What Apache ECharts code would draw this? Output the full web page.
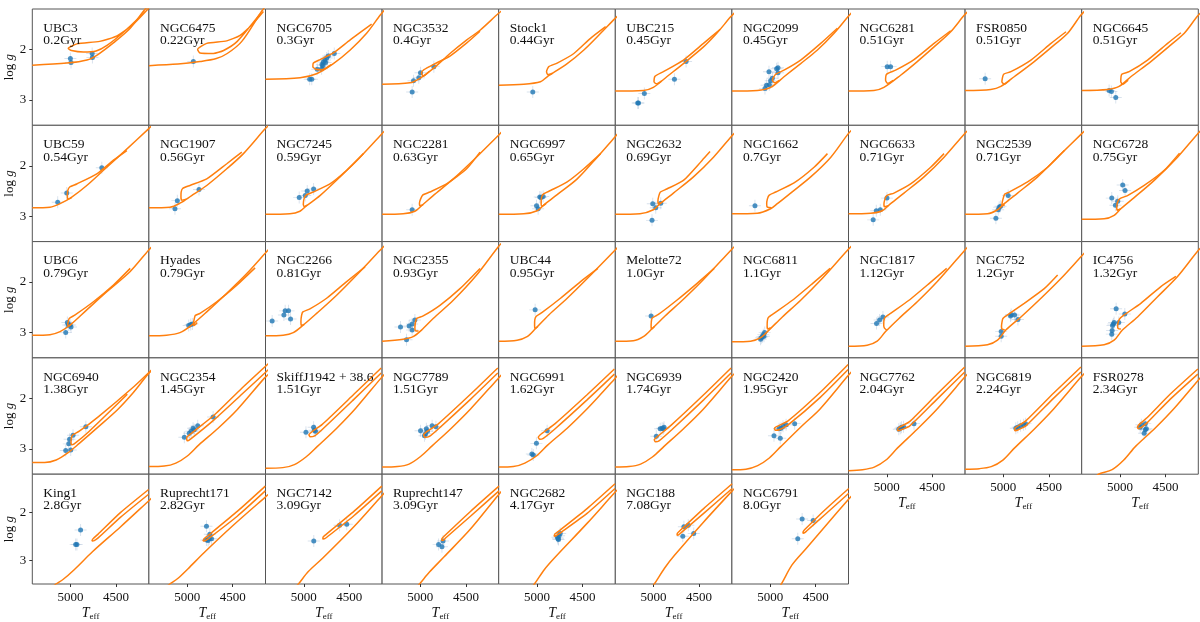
<!DOCTYPE html>
<html>
<head>
<meta charset="utf-8">
<script src="https://cdn.jsdelivr.net/npm/echarts@6/dist/echarts.min.js"></script>
<style>
  html, body { margin: 0; padding: 0; background: #fff; }
  #main { width: 1200px; height: 622px; }
</style>
</head>
<body>
<div id="main"></div>
<script>
// cluster names and ages, in panel order (10 per row)
const names = ['UBC3','NGC6475','NGC6705','NGC3532','Stock1','UBC215','NGC2099','NGC6281','FSR0850','NGC6645',
  'UBC59','NGC1907','NGC7245','NGC2281','NGC6997','NGC2632','NGC1662','NGC6633','NGC2539','NGC6728',
  'UBC6','Hyades','NGC2266','NGC2355','UBC44','Melotte72','NGC6811','NGC1817','NGC752','IC4756',
  'NGC6940','NGC2354','SkiffJ1942 + 38.6','NGC7789','NGC6991','NGC6939','NGC2420','NGC7762','NGC6819','FSR0278',
  'King1','Ruprecht171','NGC7142','Ruprecht147','NGC2682','NGC188','NGC6791'];
const ages = ['0.2Gyr','0.22Gyr','0.3Gyr','0.4Gyr','0.44Gyr','0.45Gyr','0.45Gyr','0.51Gyr','0.51Gyr','0.51Gyr',
  '0.54Gyr','0.56Gyr','0.59Gyr','0.63Gyr','0.65Gyr','0.69Gyr','0.7Gyr','0.71Gyr','0.71Gyr','0.75Gyr',
  '0.79Gyr','0.79Gyr','0.81Gyr','0.93Gyr','0.95Gyr','1.0Gyr','1.1Gyr','1.12Gyr','1.2Gyr','1.32Gyr',
  '1.38Gyr','1.45Gyr','1.51Gyr','1.51Gyr','1.62Gyr','1.74Gyr','1.95Gyr','2.04Gyr','2.24Gyr','2.34Gyr',
  '2.8Gyr','2.82Gyr','3.09Gyr','3.09Gyr','4.17Gyr','7.08Gyr','8.0Gyr'];

// isochrone: subgiant + red giant branch [Teff, logg]
const isoMain = [
  [[5420,2.31],[5040,2.27],[4820,2.21],[4700,2.10],[4530,1.87],[4345,1.58],[4180,1.2],[4100,1.08]],
  [[5420,2.32],[5100,2.29],[4860,2.24],[4680,2.18],[4560,2.08],[4400,1.84],[4180,1.24],[4100,1.06]],
  [[5420,2.59],[5040,2.56],[4860,2.48],[4675,2.28],[4490,2.01],[4310,1.68],[4160,1.32],[4080,1.15]],
  [[5420,2.69],[5115,2.66],[5005,2.57],[4860,2.38],[4675,2.08],[4490,1.81],[4345,1.62],[4144,1.29],[4080,1.2]],
  [[5420,2.71],[5145,2.69],[4962,2.64],[4888,2.54],[4668,2.28],[4485,2.01],[4301,1.68],[4144,1.39],[4080,1.28]],
  [[5420,2.82],[5112,2.81],[5002,2.75],[4855,2.54],[4672,2.28],[4452,1.95],[4306,1.68],[4151,1.35],[4080,1.22]],
  [[5420,2.82],[5141,2.81],[4995,2.75],[4848,2.54],[4665,2.28],[4481,2.01],[4298,1.68],[4144,1.35],[4080,1.22]],
  [[5420,2.82],[5141,2.81],[5031,2.75],[4848,2.51],[4665,2.24],[4481,1.95],[4298,1.65],[4148,1.32],[4080,1.2]],
  [[5420,2.81],[5138,2.79],[5027,2.73],[4881,2.54],[4661,2.24],[4441,1.91],[4294,1.68],[4148,1.32],[4080,1.2]],
  [[5420,2.81],[5138,2.79],[5009,2.73],[4881,2.54],[4661,2.24],[4441,1.91],[4294,1.68],[4148,1.34],[4080,1.22]],
  [[5420,2.83],[5226,2.82],[5115,2.75],[4987,2.62],[4822,2.39],[4639,2.09],[4419,1.73],[4144,1.27],[4080,1.16]],
  [[5420,2.83],[5189,2.82],[5079,2.74],[4951,2.59],[4785,2.39],[4565,2.06],[4382,1.76],[4144,1.27],[4080,1.16]],
  [[5420,2.96],[5152,2.95],[5042,2.90],[4969,2.79],[4822,2.59],[4602,2.22],[4382,1.83],[4144,1.37],[4080,1.25]],
  [[5420,2.96],[5189,2.95],[5060,2.90],[4987,2.79],[4859,2.59],[4639,2.26],[4419,1.89],[4144,1.40],[4080,1.28]],
  [[5420,2.96],[5145,2.95],[4998,2.89],[4907,2.75],[4778,2.57],[4558,2.26],[4338,1.83],[4144,1.43],[4080,1.3]],
  [[5420,2.96],[5149,2.95],[5002,2.87],[4929,2.75],[4782,2.54],[4562,2.22],[4342,1.83],[4151,1.43],[4080,1.3]],
  [[5420,2.95],[5141,2.94],[4995,2.85],[4921,2.75],[4775,2.54],[4555,2.22],[4334,1.83],[4144,1.37],[4080,1.25]],
  [[5420,2.95],[5178,2.94],[5050,2.89],[4958,2.75],[4811,2.54],[4591,2.22],[4371,1.83],[4148,1.37],[4080,1.25]],
  [[5420,2.96],[5174,2.95],[5064,2.87],[4991,2.75],[4844,2.54],[4624,2.22],[4404,1.83],[4148,1.38],[4080,1.26]],
  [[5420,3.06],[5174,3.05],[5064,2.98],[4991,2.85],[4844,2.63],[4624,2.29],[4368,1.83],[4148,1.37],[4080,1.25]],
  [[5420,3.05],[5226,3.04],[5115,2.98],[5005,2.85],[4822,2.55],[4602,2.19],[4345,1.79],[4144,1.37],[4080,1.25]],
  [[5420,3.06],[5226,3.05],[5079,3.0],[4951,2.85],[4785,2.59],[4565,2.22],[4345,1.83],[4144,1.43],[4080,1.3]],
  [[5420,3.06],[5226,3.05],[5115,3.0],[5005,2.85],[4859,2.62],[4639,2.26],[4419,1.86],[4162,1.37],[4080,1.22]],
  [[5420,3.17],[5189,3.13],[5079,3.08],[4987,2.95],[4859,2.72],[4639,2.36],[4382,1.86],[4144,1.30],[4080,1.18]],
  [[5420,3.17],[5218,3.15],[5108,3.08],[5016,2.92],[4870,2.65],[4668,2.32],[4448,1.93],[4144,1.37],[4080,1.25]],
  [[5420,3.17],[5222,3.16],[5112,3.08],[5020,2.93],[4874,2.67],[4672,2.34],[4452,1.95],[4151,1.37],[4080,1.24]],
  [[5420,3.18],[5215,3.17],[5105,3.10],[5013,2.95],[4866,2.69],[4665,2.36],[4445,1.96],[4151,1.37],[4080,1.24]],
  [[5420,3.27],[5215,3.25],[5105,3.17],[5013,2.98],[4866,2.72],[4665,2.39],[4445,1.99],[4148,1.38],[4080,1.24]],
  [[5420,3.27],[5174,3.24],[5064,3.15],[4973,2.95],[4807,2.69],[4587,2.32],[4368,1.93],[4148,1.50],[4060,1.33]],
  [[5420,3.27],[5174,3.24],[5064,3.15],[4973,2.95],[4807,2.69],[4587,2.29],[4368,1.89],[4148,1.39],[4080,1.27]],
  [[5420,3.27],[5284,3.27],[5158,3.22],[5031,3.08],[4904,2.89],[4693,2.56],[4482,2.22],[4313,1.89],[4152,1.53],[4080,1.4]],
  [[5420,3.35],[5251,3.34],[5124,3.28],[4998,3.14],[4871,2.92],[4660,2.59],[4449,2.22],[4152,1.60],[4080,1.48]],
  [[5420,3.38],[5230,3.37],[5103,3.31],[4976,3.16],[4850,2.95],[4638,2.59],[4427,2.19],[4152,1.60],[4080,1.46]],
  [[5420,3.36],[5251,3.35],[5124,3.30],[4998,3.15],[4871,2.94],[4660,2.59],[4449,2.21],[4152,1.62],[4080,1.48]],
  [[5420,3.36],[5259,3.35],[5133,3.28],[5006,3.14],[4880,2.92],[4668,2.59],[4457,2.22],[4306,1.93],[4150,1.62],[4080,1.48]],
  [[5420,3.36],[5270,3.35],[5142,3.30],[5013,3.16],[4885,2.95],[4671,2.60],[4457,2.22],[4149,1.58],[4080,1.45]],
  [[5420,3.41],[5266,3.40],[5137,3.33],[5009,3.18],[4881,2.95],[4666,2.57],[4452,2.21],[4144,1.55],[4080,1.42]],
  [[5420,3.43],[5266,3.41],[5137,3.36],[5009,3.22],[4881,2.98],[4666,2.61],[4452,2.22],[4144,1.58],[4080,1.45]],
  [[5420,3.40],[5262,3.39],[5133,3.35],[5005,3.22],[4876,2.98],[4662,2.61],[4448,2.21],[4148,1.58],[4080,1.45]],
  [[5260,3.55],[5236,3.50],[5086,3.41],[4958,3.22],[4829,2.95],[4615,2.59],[4401,2.19],[4145,1.65],[4080,1.52]],
  [[5200,3.56],[5161,3.50],[5080,3.40],[4960,3.20],[4757,2.82],[4450,2.30],[4143,1.76],[4080,1.65]],
  [[5230,3.56],[5191,3.50],[5100,3.38],[4990,3.18],[4818,2.85],[4500,2.28],[4142,1.68],[4080,1.58]],
  [[5100,3.58],[5059,3.50],[4950,3.24],[4788,2.95],[4450,2.30],[4143,1.65],[4080,1.52]],
  [[5050,3.58],[5010,3.50],[4900,3.25],[4739,2.93],[4450,2.35],[4137,1.62],[4080,1.50]],
  [[5070,3.58],[5028,3.50],[4920,3.20],[4806,2.95],[4450,2.23],[4143,1.58],[4080,1.46]],
  [[5030,3.58],[4992,3.50],[4880,3.17],[4770,2.90],[4450,2.20],[4137,1.55],[4080,1.44]],
  [[4910,3.58],[4877,3.50],[4760,3.10],[4607,2.76],[4400,2.30],[4137,1.72],[4080,1.60]]
];

// isochrone: helium-burning loop / red clump [Teff, logg]
const isoLoop = [
  [[4140,1.18],[4300,1.48],[4490,1.73],[4680,1.84],[4930,1.89],[5025,1.98],[4990,2.02],[4860,2.05],[4720,2.03],[4600,1.92],[4400,1.63],[4180,1.25]],
  [[4163,1.25],[4273,1.48],[4419,1.72],[4565,1.83],[4785,1.88],[4885,2.0],[4859,2.07],[4712,2.08],[4600,2.02],[4450,1.84],[4200,1.30]],
  [[4255,1.50],[4490,1.81],[4675,2.07],[4820,2.20],[4895,2.27],[4900,2.34],[4870,2.39],[4800,2.40],[4700,2.30]],
  [[4345,1.64],[4490,1.87],[4675,2.13],[4860,2.30],[4960,2.40],[4987,2.46],[4970,2.53],[4900,2.43]],
  [[4246,1.55],[4412,1.78],[4595,2.08],[4778,2.27],[4870,2.34],[4895,2.44],[4880,2.50],[4830,2.47]],
  [[4268,1.60],[4452,1.88],[4672,2.21],[4892,2.44],[4984,2.53],[4995,2.64],[4970,2.68],[4910,2.62]],
  [[4262,1.58],[4445,1.88],[4665,2.21],[4848,2.41],[4940,2.49],[4976,2.61],[4950,2.66],[4900,2.61]],
  [[4298,1.63],[4481,1.88],[4701,2.20],[4903,2.41],[5002,2.49],[5013,2.61],[4990,2.67],[4930,2.61]],
  [[4312,1.65],[4477,1.88],[4697,2.21],[4917,2.44],[4997,2.49],[5016,2.64],[4990,2.69],[4930,2.61]],
  [[4331,1.67],[4477,1.88],[4697,2.21],[4899,2.44],[4980,2.49],[4991,2.64],[4970,2.69],[4910,2.61]],
  [[4382,1.70],[4529,1.89],[4712,2.16],[4932,2.36],[5010,2.42],[5032,2.50],[5035,2.60],[5030,2.66],[4990,2.64]],
  [[4400,1.73],[4565,1.96],[4785,2.26],[4969,2.39],[5050,2.45],[5066,2.52],[5068,2.62],[5060,2.68],[5010,2.66]],
  [[4345,1.76],[4529,2.09],[4712,2.36],[4895,2.52],[4975,2.58],[4998,2.66],[5005,2.76],[4995,2.81],[4960,2.78]],
  [[4345,1.73],[4492,2.06],[4712,2.36],[4895,2.52],[4975,2.58],[4998,2.66],[5010,2.74],[5005,2.79],[4970,2.77]],
  [[4301,1.76],[4485,2.06],[4668,2.32],[4851,2.49],[4930,2.56],[4950,2.63],[4954,2.75],[4945,2.80],[4900,2.75]],
  [[4380,1.72],[4470,1.90],[4672,2.29],[4855,2.46],[4925,2.52],[4943,2.60],[4952,2.70],[4945,2.75],[4910,2.72]],
  [[4371,1.76],[4518,2.03],[4738,2.34],[4939,2.52],[5010,2.58],[5031,2.66],[5038,2.76],[5030,2.82],[4985,2.83]],
  [[4371,1.76],[4518,2.03],[4738,2.36],[4921,2.54],[5000,2.59],[5020,2.66],[5031,2.76],[5025,2.81],[4985,2.79]],
  [[4331,1.70],[4514,2.03],[4734,2.32],[4936,2.52],[4985,2.56],[4998,2.62],[5012,2.72],[5016,2.79],[4985,2.77]],
  [[4346,1.75],[4514,2.09],[4734,2.39],[4917,2.59],[5000,2.65],[5027,2.72],[5035,2.82],[5030,2.88],[4990,2.85]],
  [[4345,1.73],[4529,2.06],[4749,2.39],[4950,2.65],[5015,2.72],[5024,2.77],[5031,2.84],[5020,2.87],[4990,2.83]],
  [[4254,1.72],[4455,2.06],[4675,2.39],[4859,2.62],[4910,2.66],[4921,2.72],[4930,2.82],[4925,2.86],[4890,2.80]],
  [[4327,1.70],[4529,1.99],[4749,2.32],[4932,2.53],[5010,2.59],[5024,2.66],[5031,2.78],[5028,2.86],[4995,2.84]],
  [[4345,1.73],[4565,2.13],[4785,2.46],[4969,2.67],[5040,2.72],[5053,2.79],[5060,2.90],[5055,2.96],[5020,2.97]],
  [[4331,1.73],[4521,1.99],[4741,2.32],[4943,2.60],[5010,2.68],[5024,2.75],[5026,2.86],[5020,2.92],[4990,2.88]],
  [[4334,1.73],[4525,2.03],[4745,2.36],[4947,2.64],[5015,2.71],[5024,2.78],[5027,2.88],[5020,2.93],[4990,2.88]],
  [[4342,1.73],[4536,2.03],[4756,2.36],[4958,2.62],[5020,2.70],[5031,2.77],[5033,2.88],[5025,2.93],[4995,2.90]],
  [[4342,1.73],[4536,2.03],[4756,2.36],[4958,2.62],[5020,2.70],[5031,2.76],[5033,2.86],[5025,2.91],[5000,2.95]],
  [[4404,1.86],[4551,2.13],[4771,2.42],[4954,2.65],[5005,2.72],[5016,2.80],[5020,2.88],[5015,2.93],[4985,2.95]],
  [[4386,1.89],[4551,2.09],[4771,2.42],[4954,2.65],[5005,2.73],[5020,2.80],[5026,2.87],[5020,2.92],[4990,2.93]],
  [[4100,1.42],[4300,1.76],[4693,2.36],[4904,2.65],[4975,2.72],[4989,2.77],[4995,2.86],[4990,2.92],[4960,2.90],[4800,2.66],[4377,1.92]],
  [[4100,1.30],[4400,1.80],[4702,2.33],[4960,2.70],[5005,2.78],[5000,2.84],[4960,2.80],[4702,2.42],[4400,1.92],[4100,1.42]],
  [[4150,1.40],[4450,1.92],[4800,2.52],[4910,2.66],[4943,2.72],[4930,2.76],[4880,2.74],[4800,2.62],[4450,2.02],[4150,1.50]],
  [[4150,1.40],[4450,1.92],[4800,2.50],[4930,2.66],[4964,2.72],[4950,2.77],[4900,2.75],[4800,2.60],[4450,2.02],[4150,1.50]],
  [[4150,1.42],[4450,1.93],[4800,2.50],[4950,2.70],[4985,2.77],[4970,2.81],[4930,2.79],[4800,2.60],[4450,2.03],[4150,1.52]],
  [[4149,1.40],[4450,1.93],[4800,2.52],[4960,2.76],[4992,2.82],[4980,2.86],[4940,2.84],[4800,2.62],[4450,2.03],[4149,1.50]],
  [[4144,1.33],[4450,1.88],[4800,2.44],[4930,2.56],[4953,2.59],[4945,2.63],[4900,2.62],[4800,2.52],[4450,1.98],[4144,1.43]],
  [[4144,1.38],[4450,1.92],[4750,2.46],[4860,2.57],[4881,2.61],[4875,2.64],[4840,2.62],[4750,2.55],[4450,2.02],[4144,1.48]],
  [[4148,1.38],[4450,1.90],[4750,2.44],[4860,2.57],[4876,2.61],[4870,2.64],[4835,2.62],[4750,2.54],[4450,2.00],[4148,1.48]],
  [[4145,1.42],[4450,1.92],[4700,2.38],[4790,2.52],[4808,2.57],[4800,2.60],[4770,2.58],[4700,2.48],[4450,2.02],[4145,1.52]],
  [[4143,1.52],[4450,2.00],[4700,2.46],[4757,2.56],[4765,2.60],[4740,2.59],[4700,2.54],[4450,2.10],[4143,1.62]],
  [[4142,1.45],[4450,1.98],[4780,2.50],[4818,2.56],[4825,2.60],[4800,2.59],[4760,2.54],[4450,2.08],[4142,1.55]],
  [[4143,1.45],[4450,1.98],[4760,2.47],[4788,2.52],[4790,2.56],[4770,2.55],[4740,2.51],[4450,2.07],[4143,1.55]],
  [[4137,1.45],[4450,1.98],[4740,2.50],[4763,2.55],[4765,2.59],[4745,2.58],[4720,2.53],[4450,2.08],[4137,1.55]],
  [[4143,1.40],[4450,1.92],[4780,2.42],[4806,2.46],[4810,2.50],[4790,2.49],[4760,2.45],[4450,2.02],[4143,1.50]],
  [[4137,1.40],[4450,1.92],[4720,2.40],[4739,2.44],[4742,2.48],[4725,2.47],[4700,2.43],[4450,2.02],[4137,1.50]],
  [[4137,1.50],[4400,1.95],[4620,2.36],[4637,2.40],[4640,2.44],[4625,2.43],[4600,2.39],[4400,2.05],[4137,1.60]]
];

// observed giants [Teff, logg]
const stars = [
  [[5002,2.18],[4995,2.26],[4763,2.08],[4760,2.16]],
  [[4932,2.24]],
  [[4935,2.59],[4912,2.59],[4852,2.39],[4804,2.38],[4800,2.30],[4785,2.25],[4767,2.21],[4749,2.17],[4731,2.13],[4760,2.26],[4665,2.08],[4790,2.32]],
  [[5090,2.84],[5075,2.62],[5017,2.56],[4998,2.46],[4852,2.34]],
  [[5046,2.84]],
  [[5174,3.06],[5165,3.06],[5101,2.87],[4771,2.59],[4643,2.24]],
  [[5057,2.77],[5039,2.71],[5009,2.70],[4995,2.62],[4976,2.57],[4914,2.46],[4929,2.38],[4914,2.36],[5013,2.44]],
  [[4995,2.34],[4958,2.34]],
  [[5200,2.58]],
  [[5119,2.81],[5094,2.83],[5046,2.95]],
  [[5141,2.72],[5042,2.54],[4657,2.04]],
  [[5134,2.85],[5108,2.69],[4870,2.47]],
  [[5050,2.63],[4984,2.59],[4962,2.50],[4892,2.46]],
  [[5090,2.87]],
  [[5005,2.79],[4987,2.85],[4969,2.62],[4955,2.63],[4932,2.61]],
  [[5017,3.08],[5009,2.75],[4976,2.83],[4921,2.74]],
  [[5167,2.79]],
  [[5149,3.07],[5115,2.89],[5071,2.87],[4998,2.64]],
  [[5082,3.04],[5057,2.87],[5046,2.82],[5031,2.80],[4947,2.59]],
  [[5090,2.64],[5050,2.78],[5024,2.70],[4970,2.38],[4944,2.49]],
  [[5053,3.0],[5035,2.80],[5024,2.85],[5005,2.85],[4995,2.89]],
  [[4983,2.86],[4961,2.84],[4943,2.83]],
  [[5347,2.77],[5218,2.65],[5204,2.57],[5167,2.57],[5145,2.73]],
  [[5218,2.89],[5152,3.14],[5123,2.87],[5090,2.83],[5090,2.95],[5060,2.75]],
  [[5020,2.55]],
  [[5027,2.67]],
  [[5105,3.13],[5086,3.08],[5075,3.04],[5060,3.0],[5068,3.07],[5098,3.10]],
  [[5112,2.82],[5079,2.75],[5042,2.69]],
  [[5024,2.98],[5024,3.07],[4921,2.67],[4914,2.64],[4877,2.65],[4840,2.74]],
  [[5090,3.03],[5086,2.96],[5082,2.86],[5072,2.83],[5064,2.80],[5042,2.53],[5013,2.80],[4947,2.63]],
  [[5053,3.03],[4998,3.02],[5020,2.90],[5011,2.81],[4973,2.73],[4832,2.56]],
  [[5031,2.77],[4977,2.69],[4956,2.65],[4935,2.59],[4922,2.62],[4884,2.54],[4715,2.37]],
  [[4976,2.67],[4892,2.57],[4884,2.63],[4871,2.65]],
  [[4998,2.64],[4943,2.70],[4934,2.60],[4922,2.65],[4871,2.54],[4829,2.56],[4955,2.74]],
  [[5056,3.10],[5040,3.12],[5006,2.89],[4888,2.64]],
  [[4970,2.75],[4927,2.60],[4906,2.59],[4893,2.60],[4885,2.57]],
  [[4958,2.74],[4902,2.60],[4881,2.59],[4859,2.55],[4825,2.52],[4731,2.50],[4889,2.79]],
  [[4868,2.61],[4851,2.59],[4838,2.57],[4816,2.56],[4701,2.50]],
  [[4863,2.59],[4842,2.57],[4812,2.54],[4778,2.52],[4756,2.50]],
  [[4778,2.57],[4765,2.52],[4722,2.50],[4722,2.62],[4735,2.69],[4710,2.60]],
  [[4944,2.67],[4930,2.67],[4890,2.37]],
  [[4788,2.29],[4751,2.46],[4788,2.58],[4758,2.55],[4733,2.55],[4770,2.59]],
  [[4890,2.60],[4607,2.27],[4528,2.25]],
  [[4800,2.67],[4751,2.60],[4763,2.72]],
  [[4775,2.52],[4769,2.55],[4757,2.49],[4745,2.44],[4763,2.57]],
  [[4679,2.50],[4667,2.30],[4619,2.27],[4559,2.44]],
  [[4697,2.55],[4649,2.14],[4528,2.17]]
];

const xTicks = [4500, 5000];
const yTicks = [2, 3];

const FONT = 'Liberation Serif';
const chart = echarts.init(document.getElementById('main'));

const grids = [], xAxes = [], yAxes = [], series = [], titles = [];
const W = 116.6, H = 116.3;

names.forEach((name, i) => {
    const row = Math.floor(i / 10), col = i % 10;
    const left = 32.3 + col * W, top = 9 + row * H;
    const showX = row === 4 || (row === 3 && col >= 7);
    const showY = col === 0;

    grids.push({ left: left, top: top, width: W, height: H, show: true,
        borderColor: '#555', borderWidth: 1, backgroundColor: '#fff' });

    xAxes.push({
        gridIndex: i, type: 'value', min: 4140, max: 5420, inverse: true,
        axisLine: { show: false }, splitLine: { show: false },
        axisTick: { show: showX, customValues: xTicks, length: 3, lineStyle: { color: '#333' } },
        axisLabel: { show: showX, customValues: xTicks, margin: 7,
            formatter: v => String(v),
            fontFamily: FONT, fontSize: 13, color: '#111' },
        name: showX ? '{t|T}{s|eff}' : '', nameLocation: 'middle', nameGap: 22,
        nameTextStyle: { rich: {
            t: { fontFamily: FONT, fontStyle: 'italic', fontSize: 14, color: '#111' },
            s: { fontFamily: FONT, fontSize: 9, color: '#111', padding: [6, 0, 0, 0] }
        } }
    });
    yAxes.push({
        gridIndex: i, type: 'value', min: 1.2, max: 3.5, inverse: true,
        axisLine: { show: false }, splitLine: { show: false },
        axisTick: { show: showY, customValues: yTicks, length: 3, lineStyle: { color: '#333' } },
        axisLabel: { show: showY, customValues: yTicks, margin: 6,
            fontFamily: FONT, fontSize: 13, color: '#111' },
        name: showY ? '{n|log }{g|g}' : '', nameLocation: 'middle', nameGap: 12, nameRotate: 90,
        nameTextStyle: { rich: {
            n: { fontFamily: FONT, fontSize: 13, color: '#111' },
            g: { fontFamily: FONT, fontStyle: 'italic', fontSize: 13, color: '#111' }
        } }
    });

    titles.push({
        text: name + '\n' + ages[i], left: left + 11, top: top + 13, padding: 0,
        textStyle: { fontFamily: FONT, fontSize: 13.5, fontWeight: 'normal', lineHeight: 12.5, color: '#111' }
    });

    const lineStyle = { color: '#ff7f0e', width: 1.5 };
    series.push({ type: 'line', xAxisIndex: i, yAxisIndex: i, data: isoMain[i],
        showSymbol: false, smooth: 0.3, lineStyle: lineStyle, silent: true, clip: true });
    series.push({ type: 'line', xAxisIndex: i, yAxisIndex: i, data: isoLoop[i],
        showSymbol: false, smooth: 0.2, lineStyle: lineStyle, silent: true, clip: true });
    // faint error crosses behind the stars
    series.push({ type: 'scatter', xAxisIndex: i, yAxisIndex: i, data: stars[i],
        symbol: 'path://M0,4.6h10v0.8h-10z M4.6,0h0.8v10h-0.8z', symbolSize: 12,
        itemStyle: { color: 'rgba(120,150,190,0.35)' }, silent: true, clip: true });
    series.push({ type: 'scatter', xAxisIndex: i, yAxisIndex: i, data: stars[i],
        symbolSize: 5, itemStyle: { color: '#1f77b4' }, silent: true, clip: true });
});

chart.setOption({
    animation: false,
    backgroundColor: '#fff',
    title: titles,
    grid: grids,
    xAxis: xAxes,
    yAxis: yAxes,
    series: series
});
</script>
</body>
</html>
